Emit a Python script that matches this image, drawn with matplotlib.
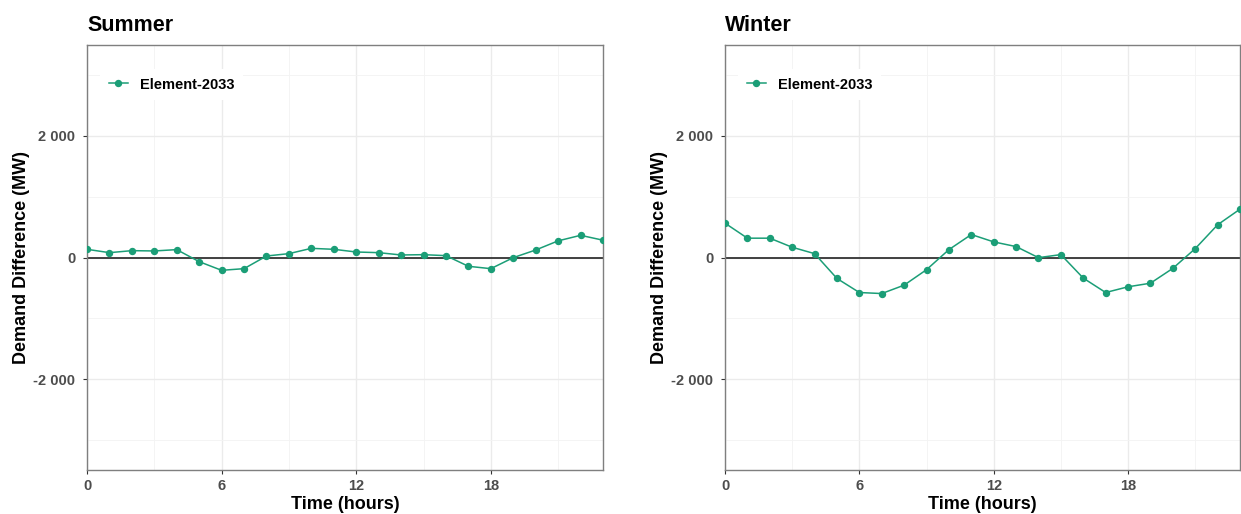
import matplotlib
matplotlib.use('Agg')
import matplotlib.pyplot as plt
from matplotlib.ticker import FuncFormatter, MultipleLocator

plt.rcParams['font.family'] = ['Liberation Sans', 'DejaVu Sans']

# hourly demand difference (MW)
hours = list(range(24))
summer = [137, 82, 115, 110, 132, -66, -208, -181, 27, 66, 153, 137,
          93, 82, 44, 49, 33, -142, -181, 0, 126, 276, 367, 287]
winter = [567, 320, 320, 171, 66, -342, -573, -590, -452, -198, 132, 380,
          259, 182, 0, 50, -336, -573, -479, -420, -176, 148, 540, 797]
panels = ['Summer', 'Winter']
series_name = 'Element-2033'
line_color = '#1b9e77'

ylim = (-3490, 3495)
xlim = (0, 23)


def thousands(v, pos):
    return f'{v:,.0f}'.replace(',', ' ')


fig = plt.figure(figsize=(12.41, 5.14), dpi=100)
axes = [fig.add_axes([87 / 1241, 44 / 514, 516 / 1241, 425 / 514]),
        fig.add_axes([725 / 1241, 44 / 514, 515 / 1241, 425 / 514])]

for ax, name, vals in zip(axes, panels, [summer, winter]):
    ax.set_xlim(*xlim)
    ax.set_ylim(*ylim)

    ax.xaxis.set_major_locator(MultipleLocator(6))
    ax.xaxis.set_minor_locator(MultipleLocator(3))
    ax.yaxis.set_major_locator(MultipleLocator(2000))
    ax.yaxis.set_minor_locator(MultipleLocator(1000))
    ax.yaxis.set_major_formatter(FuncFormatter(thousands))

    ax.grid(True, which='major', color='#ebebeb', lw=1.0, zorder=0)
    ax.grid(True, which='minor', color='#f3f3f3', lw=0.6, zorder=0)
    ax.set_axisbelow(True)

    ax.axhline(0, color='#333333', lw=1.3, zorder=2)
    ax.plot(hours, vals, color=line_color, lw=1.1, marker='o', ms=4.3,
            label=series_name, zorder=3)

    for s in ax.spines.values():
        s.set_color('#7f7f7f')
        s.set_linewidth(1.0)

    ax.tick_params(which='major', length=3, width=0.8, color='#333333',
                   labelsize=10.5, labelcolor='#4d4d4d')
    ax.tick_params(axis='x', pad=3.6)
    ax.tick_params(axis='y', pad=5.5)
    ax.tick_params(which='minor', length=0)
    for lab in ax.get_xticklabels() + ax.get_yticklabels():
        lab.set_fontweight('bold')

    ax.set_title(name, loc='left', fontsize=15.5, fontweight='bold', pad=10)
    ax.set_xlabel('Time (hours)', fontsize=13, fontweight='bold', labelpad=2)
    ax.set_ylabel('Demand Difference (MW)', fontsize=13, fontweight='bold',
                  labelpad=2.5)

    leg = ax.legend(loc='center left', bbox_to_anchor=(0.025, 0.907),
                    borderaxespad=0, borderpad=0.6, handlelength=1.3,
                    handletextpad=0.85, frameon=True, fancybox=False,
                    framealpha=1, facecolor='white', edgecolor='none',
                    prop={'size': 10.5, 'weight': 'bold'})
    leg.set_zorder(4)

fig.savefig('out.png', dpi=100)
